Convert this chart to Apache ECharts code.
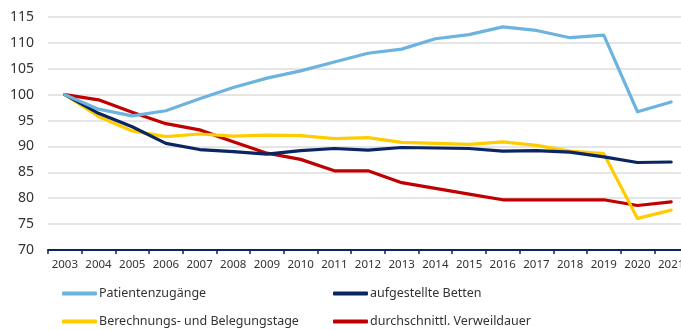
<!DOCTYPE html>
<html>
<head>
<meta charset="utf-8">
<script src="https://cdn.jsdelivr.net/npm/echarts@6/dist/echarts.min.js"></script>
<style>
  html, body { margin: 0; padding: 0; background: #ffffff; }
  #chart { width: 681px; height: 330px; }
</style>
</head>
<body>
<div id="chart"></div>
<script>
// Index values, 2003 = 100
const years = ['2003','2004','2005','2006','2007','2008','2009','2010','2011','2012','2013','2014','2015','2016','2017','2018','2019','2020','2021'];

const patientenzugaenge = [100, 97.2, 95.9, 96.9, 99.2, 101.4, 103.2, 104.6, 106.3, 108.0, 108.8, 110.8, 111.6, 113.1, 112.4, 111.0, 111.5, 96.7, 98.6];
const aufgestellteBetten = [100, 96.4, 93.8, 90.6, 89.4, 89.0, 88.5, 89.2, 89.6, 89.3, 89.8, 89.7, 89.6, 89.1, 89.2, 88.9, 88.0, 86.9, 87.0];
const belegungstage = [100, 95.8, 93.0, 91.9, 92.4, 92.0, 92.2, 92.1, 91.5, 91.7, 90.8, 90.6, 90.4, 90.9, 90.2, 89.1, 88.6, 76.1, 77.7];
const verweildauer = [100, 99.0, 96.6, 94.4, 93.2, 90.9, 88.7, 87.5, 85.3, 85.3, 83.0, 81.9, 80.8, 79.7, 79.7, 79.7, 79.7, 78.6, 79.3];

const seriesNames = ['Patientenzugänge', 'aufgestellte Betten', 'Berechnungs- und Belegungstage', 'durchschnittl. Verweildauer'];
const seriesData = [patientenzugaenge, aufgestellteBetten, belegungstage, verweildauer];
const seriesColors = ['#6cb3df', '#0a2562', '#ffcc00', '#c00000'];

const yTicks = { min: 70, max: 115, interval: 5 };

const chart = echarts.init(document.getElementById('chart'), null, { renderer: 'canvas' });

const legendPos = [
  { left: 62, top: 287 },
  { left: 333, top: 287 },
  { left: 62, top: 315 },
  { left: 333, top: 315 }
];

const option = {
  animation: false,
  backgroundColor: '#ffffff',
  // the plot runs a few pixels past the right edge, so the last label is clipped
  grid: { left: 48, width: 640, top: 17, bottom: 80, containLabel: false, outerBoundsMode: 'none' },
  legend: seriesNames.map((name, i) => ({
    data: [name],
    left: legendPos[i].left,
    top: legendPos[i].top,
    icon: 'roundRect',
    itemWidth: 35,
    itemHeight: 4,
    padding: 0,
    selectedMode: false,
    textStyle: {
      fontFamily: 'Noto Sans',
      fontSize: 12.5,
      color: '#333333',
      padding: [0, 0, 0, -3]
    }
  })),
  xAxis: {
    type: 'category',
    data: years,
    boundaryGap: true,
    axisLine: { lineStyle: { color: '#0a2562', width: 2 } },
    axisTick: { show: true, length: 4, lineStyle: { color: '#0a2562', width: 1.5 } },
    axisLabel: {
      fontFamily: 'Noto Sans',
      fontSize: 11.5,
      color: '#333333',
      margin: 9,
      interval: 0,
      hideOverlap: false
    },
    splitLine: { show: false }
  },
  yAxis: {
    type: 'value',
    min: yTicks.min,
    max: yTicks.max,
    interval: yTicks.interval,
    axisLine: { show: false },
    axisTick: { show: false },
    axisLabel: {
      fontFamily: 'Noto Sans',
      fontSize: 14,
      color: '#333333',
      margin: 14
    },
    splitLine: { lineStyle: { color: '#dcdcdc', width: 1.5 } }
  },
  series: seriesNames.map((name, i) => ({
    name: name,
    type: 'line',
    data: seriesData[i],
    symbol: 'none',
    smooth: false,
    lineStyle: { color: seriesColors[i], width: 3.2, cap: 'round', join: 'round' },
    itemStyle: { color: seriesColors[i] },
    z: 10 - i
  }))
};

chart.setOption(option);
</script>
</body>
</html>
